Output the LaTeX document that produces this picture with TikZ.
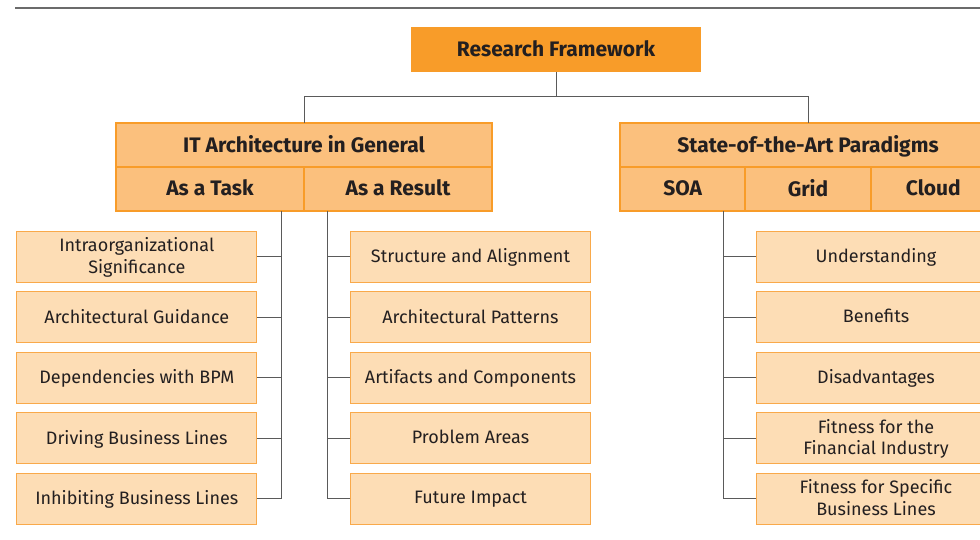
\documentclass[tikz,border=0pt]{standalone}
\usepackage{fontspec}
\setmainfont{Fira Sans}
\usetikzlibrary{positioning}
\definecolor{fwdark}{HTML}{F89C29}
\definecolor{fwmid}{HTML}{FBC07D}
\definecolor{fwlight}{HTML}{FDDDB5}
\definecolor{fwedge}{HTML}{F9A94A}
\definecolor{fwline}{HTML}{5A5A5A}
\definecolor{fwtext}{HTML}{231F20}

\begin{document}
\begin{tikzpicture}[x=1pt,y=-1pt,
        rootbox/.style={fill=fwdark,text=fwtext,minimum width=290,minimum height=45,
            text depth=0.22em,font=\bfseries\fontsize{21}{24}\selectfont},
        headbox/.style={fill=fwmid,draw=fwdark,line width=2.2pt,text=fwtext,minimum height=44,
            inner sep=0pt,outer sep=0pt,text depth=0.22em,font=\bfseries\fontsize{21}{24}\selectfont},
        leafbox/.style={fill=fwlight,draw=fwedge,line width=0.9pt,text=fwtext,minimum width=240,
            minimum height=51,inner sep=0pt,align=center,text depth=0.22em,
            font=\fontsize{18}{21.7}\selectfont},
        link/.style={fwline,line width=0.9pt}
    ]
        \useasboundingbox (0,0) rectangle (980,540);
        \draw[fwline!90,line width=2pt] (15,8.5) -- (980,8.5);

        % top
        \node[rootbox] (root) at (556,49.5) {Research Framework};

        % the two headers
        \node[headbox,minimum width=376] (itgen) at (304,145) {IT Architecture in General};
        \node[headbox,minimum width=188,below right=0pt of itgen.south west] (task) {As a Task};
        \node[headbox,minimum width=188,right=0pt of task] (result) {As a Result};

        \node[headbox,minimum width=376] (sota) at (808,145) {State-of-the-Art Paradigms};
        \node[headbox,minimum width=125.33,below right=0pt of sota.south west] (soa) {SOA};
        \node[headbox,minimum width=125.33,right=0pt of soa] (grid) {Grid};
        \node[headbox,minimum width=125.33,right=0pt of grid] (cloud) {Cloud};

        \draw[link] (root.south) -- ++(0,24) -| (itgen.north);
        \draw[link] (root.south) -- ++(0,24) -| (sota.north);

        % as a task
        \node[leafbox] (t1) at (136.8,256.7) {Intraorganizational\\Significance};
        \node[leafbox,below=8.6pt of t1] (t2) {Architectural Guidance};
        \node[leafbox,below=8.6pt of t2] (t3) {Dependencies with BPM};
        \node[leafbox,below=8.6pt of t3] (t4) {Driving Business Lines};
        \node[leafbox,below=8.6pt of t4] (t5) {Inhibiting Business Lines};

        % as a result
        \node[leafbox] (r1) at (470.5,256.7) {Structure and Alignment};
        \node[leafbox,below=8.6pt of r1] (r2) {Architectural Patterns};
        \node[leafbox,below=8.6pt of r2] (r3) {Artifacts and Components};
        \node[leafbox,below=8.6pt of r3] (r4) {Problem Areas};
        \node[leafbox,below=8.6pt of r4] (r5) {Future Impact};

        % soa
        \node[leafbox] (s1) at (876,256.7) {Understanding};
        \node[leafbox,below=8.6pt of s1] (s2) {Benefits};
        \node[leafbox,below=8.6pt of s2] (s3) {Disadvantages};
        \node[leafbox,below=8.6pt of s3] (s4) {Fitness for the\\Financial Industry};
        \node[leafbox,below=8.6pt of s4] (s5) {Fitness for Specific\\Business Lines};

        \coordinate (tasktrunk) at ([xshift=71pt]task.south);
        \coordinate (restrunk) at ([xshift=-71pt]result.south);
        \coordinate (soatrunk) at ([xshift=41pt]soa.south);
        \draw[link] (tasktrunk) -- (tasktrunk |- t5.east);
        \draw[link] (restrunk) -- (restrunk |- r5.west);
        \draw[link] (soatrunk) -- (soatrunk |- s5.west);
        \foreach \i in {1,...,5} {
            \draw[link] (t\i.east) -- (t\i.east -| tasktrunk);
            \draw[link] (r\i.west) -- (r\i.west -| restrunk);
            \draw[link] (s\i.west) -- (s\i.west -| soatrunk);
        }
    \end{tikzpicture}
\end{document}
